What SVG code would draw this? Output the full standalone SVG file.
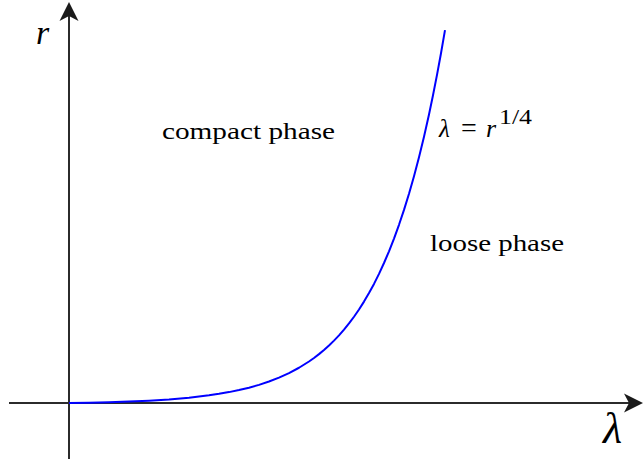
<svg xmlns="http://www.w3.org/2000/svg" width="644" height="462" viewBox="0 0 644 462">
<style>
.axis{stroke:#2b2b2b;stroke-width:2;fill:none}
.head{fill:#1a1a1a}
.curve{stroke:#0000ff;stroke-width:2;fill:none;stroke-linejoin:round}
.t{font-family:"Liberation Serif","DejaVu Serif",serif;fill:#000}
.i{font-style:italic}
</style>
<rect width="644" height="462" fill="#fff"/>
<g id="axes">
<line class="axis" x1="69" y1="459" x2="69" y2="14"/>
<path class="head" d="M69,2 L78.5,21 L69,16 L59.5,21 Z"/>
<line class="axis" x1="9" y1="403" x2="630" y2="403"/>
<path class="head" d="M643,403 L624,412.5 L629,403 L624,393.5 Z"/>
</g>
<g id="curve">
<polyline class="curve" points="69,403 89,402.66 109,402.18 129,401.53 149,400.63 169,399.4 189,397.69 199,396.61 209,395.35 219,393.86 229,392.11 239,390.07 249,387.67 259,384.84 269,381.54 279,377.66 289,373.1 299,367.75 309,361.48 314,357.95 319,354.12 324,349.97 329,345.48 334,340.61 339,335.34 344,329.63 349,323.45 354,316.74 359,309.52 364,301.6 369,293.1 374,283.9 379,273.9 384,263 389,251.3 394,238.6 399,224.8 404,209.9 409,193.8 414,176.3 419,157.3 424,136.8 429,114.5 433,95.3 437,74.9 441,53.3 445,30.1"/>
</g>
<g id="labels">
<text class="t i" x="36" y="44" font-size="34">r</text>
<text class="t i" x="603" y="443" font-size="44">λ</text>
<text class="t" x="162" y="139" font-size="24" textLength="173" lengthAdjust="spacingAndGlyphs">compact phase</text>
<text class="t" x="430" y="251" font-size="24" textLength="134" lengthAdjust="spacingAndGlyphs">loose phase</text>
<text class="t i" x="439" y="137" font-size="25">λ</text>
<text class="t" x="461" y="137" font-size="28">=</text>
<text class="t i" x="486" y="137" font-size="26">r</text>
<text class="t" x="499" y="124" font-size="21" textLength="33" lengthAdjust="spacingAndGlyphs">1/4</text>
</g>
</svg>
